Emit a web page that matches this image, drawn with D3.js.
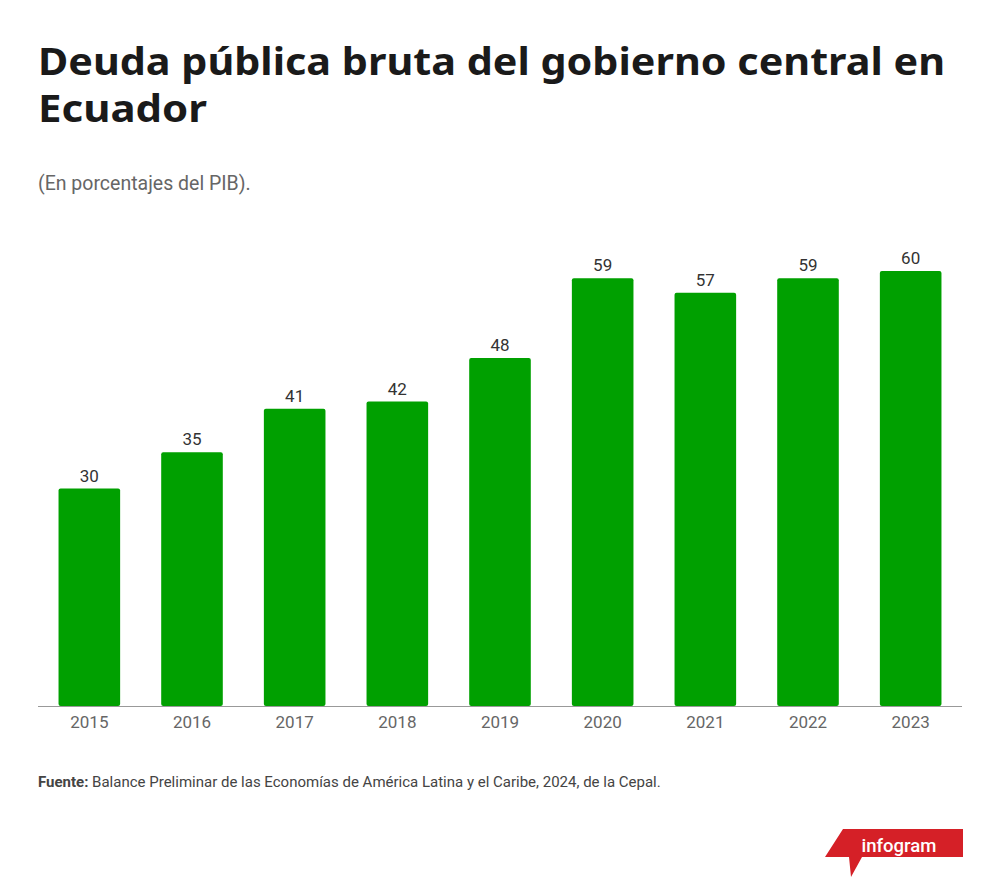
<!DOCTYPE html>
<html>
<head>
<meta charset="utf-8">
<script src="https://cdn.jsdelivr.net/npm/d3@7"></script>
<style>
  body { margin: 0; background: #fff; }
  svg { display: block; }
</style>
</head>
<body>
<svg id="chart" width="1000" height="880"></svg>
<script>
// Data
const years  = ["2015", "2016", "2017", "2018", "2019", "2020", "2021", "2022", "2023"];
const values = [30, 35, 41, 42, 48, 59, 57, 59, 60];

const titleLines = ["Deuda pública bruta del gobierno central en", "Ecuador"];
const subtitle   = "(En porcentajes del PIB).";
const sourceLbl  = "Fuente:";
const sourceTxt  = " Balance Preliminar de las Economías de América Latina y el Caribe, 2024, de la Cepal.";

const svg = d3.select("#chart");
const font = "Roboto, 'Noto Sans', sans-serif";

// Title (the original uses a wider face, so stretch lines to its widths)
const titleWidths = [907, 169];
svg.append("text")
  .attr("x", 38).attr("y", 75)
  .attr("font-family", "'Noto Sans', Roboto, sans-serif")
  .attr("font-weight", 700)
  .attr("font-size", 38)
  .attr("fill", "#1a1a1a")
  .selectAll("tspan")
  .data(titleLines)
  .join("tspan")
    .attr("x", 38)
    .attr("dy", (d, i) => i ? 47 : 0)
    .attr("textLength", (d, i) => titleWidths[i])
    .attr("lengthAdjust", "spacingAndGlyphs")
    .text(d => d);

svg.append("text")
  .attr("x", 38).attr("y", 190)
  .attr("font-family", font)
  .attr("font-size", 19.5)
  .attr("fill", "#666")
  .text(subtitle);

// Scales
const margin = { left: 38, right: 962, top: 271, bottom: 706 };
const x = d3.scaleBand()
  .domain(years)
  .range([margin.left, margin.right])
  .paddingInner(0.4)
  .paddingOuter(0.2);
const y = d3.scaleLinear()
  .domain([0, 60])
  .range([margin.bottom, margin.top]);

// Bars
svg.append("g")
  .selectAll("rect")
  .data(values)
  .join("rect")
    .attr("x", (d, i) => x(years[i]))
    .attr("y", d => y(d))
    .attr("width", x.bandwidth())
    .attr("height", d => y(0) - y(d))
    .attr("rx", 2)
    .attr("fill", "#00a000");

// Value labels
svg.append("g")
  .selectAll("text")
  .data(values)
  .join("text")
    .attr("x", (d, i) => x(years[i]) + x.bandwidth() / 2)
    .attr("y", d => y(d) - 7)
    .attr("text-anchor", "middle")
    .attr("font-family", font)
    .attr("font-size", 17)
    .attr("fill", "#333")
    .text(d => d);

// X axis
const xAxis = svg.append("g")
  .attr("transform", `translate(0,${margin.bottom})`)
  .call(d3.axisBottom(x).tickSize(0).tickPadding(10));
xAxis.select(".domain").attr("stroke", "#999").attr("d", `M${margin.left},0.5H${margin.right}`);
xAxis.selectAll("text")
  .attr("font-family", font)
  .attr("font-size", 17)
  .attr("fill", "#666");

// Source
const src = svg.append("text")
  .attr("x", 38).attr("y", 787)
  .attr("font-family", font)
  .attr("font-size", 15)
  .attr("fill", "#444");
src.append("tspan").attr("font-weight", 700).text(sourceLbl);
src.append("tspan").text(sourceTxt);

// infogram logo
const logo = svg.append("g");
logo.append("path")
  .attr("d", "M843,829 L963,829 L963,857 L862,857 L851,877 L849,857 L825,857 Z")
  .attr("fill", "#d52027");
logo.append("text")
  .attr("x", 899).attr("y", 852)
  .attr("text-anchor", "middle")
  .attr("font-family", font)
  .attr("font-weight", 500)
  .attr("font-size", 19)
  .attr("textLength", 75)
  .attr("lengthAdjust", "spacingAndGlyphs")
  .attr("fill", "#fff")
  .text("infogram");
</script>
</body>
</html>
